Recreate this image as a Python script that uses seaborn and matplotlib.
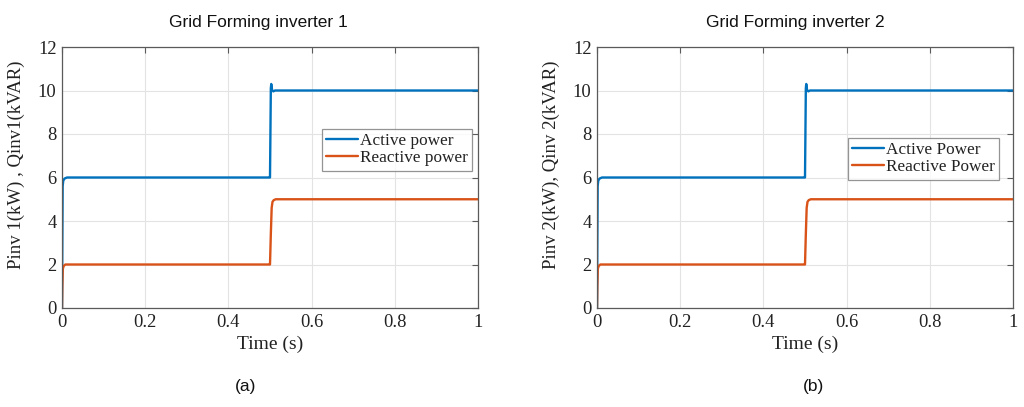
import numpy as np
import pandas as pd
import matplotlib
matplotlib.use("Agg")
import matplotlib.pyplot as plt
import seaborn as sns

# Simulated inverter power responses (time in s, power in kW / kVAR)
t_active = [0.0, 0.0008, 0.0016, 0.003, 0.006, 0.012, 0.4995, 0.5, 0.501, 0.502, 0.503, 0.505, 0.508, 0.512, 1.0]
p_inv1 = [0.0, 3.0, 5.6, 5.85, 5.95, 6.0, 6.0, 6.0, 8.0, 10.1, 10.3, 10.02, 9.96, 10.0, 10.0]
p_inv2 = [0.0, 3.0, 5.6, 5.85, 5.95, 6.0, 6.0, 6.0, 8.0, 10.1, 10.3, 10.02, 9.96, 10.0, 10.0]

t_reactive = [0.0, 0.0008, 0.002, 0.004, 0.008, 0.4995, 0.5, 0.502, 0.504, 0.506, 0.509, 0.514, 1.0]
q_inv1 = [0.0, 1.0, 1.8, 1.93, 2.0, 2.0, 2.0, 3.4, 4.6, 4.88, 4.96, 5.0, 5.0]
q_inv2 = [0.0, 1.0, 1.8, 1.93, 2.0, 2.0, 2.0, 3.4, 4.6, 4.88, 4.96, 5.0, 5.0]

x_ticks = [0, 0.2, 0.4, 0.6, 0.8, 1]
x_tick_labels = ["0", "0.2", "0.4", "0.6", "0.8", "1"]
y_ticks = [0, 2, 4, 6, 8, 10, 12]

titles = ["Grid Forming inverter 1", "Grid Forming inverter 2"]
ylabels = ["Pinv 1(kW) , Qinv1(kVAR)", "Pinv 2(kW), Qinv 2(kVAR)"]
legend_labels = [["Active power", "Reactive power"], ["Active Power", "Reactive Power"]]
panel_tags = ["(a)", "(b)"]

BLUE = "#0072BD"
ORANGE = "#D95319"
SERIF = "Liberation Serif"
SANS = "Liberation Sans"

sns.set_style("white")
plt.rcParams["font.family"] = [SERIF, "DejaVu Serif"]

fig = plt.figure(figsize=(10.24, 4.07), dpi=100)
W, H = 1024, 407

def fx(px):
    return px / W

def fy(py):
    return 1 - py / H

ax_left_px = [62, 597]
ax_w_px = 416
ax_top_px, ax_bot_px = 47, 308
legend_anchor = [(0.625, 0.686), (0.603, 0.651)]
title_cx = [258, 795]
tag_cx = [246, 814]

series = [(p_inv1, q_inv1), (p_inv2, q_inv2)]

for i in range(2):
    ax = fig.add_axes([fx(ax_left_px[i]), fy(ax_bot_px), ax_w_px / W, (ax_bot_px - ax_top_px) / H])
    p_vals, q_vals = series[i]
    df_p = pd.DataFrame({"t": t_active, "v": p_vals})
    df_q = pd.DataFrame({"t": t_reactive, "v": q_vals})
    sns.lineplot(data=df_p, x="t", y="v", ax=ax, color=BLUE, linewidth=1.7,
                 estimator=None, sort=False, label=legend_labels[i][0])
    sns.lineplot(data=df_q, x="t", y="v", ax=ax, color=ORANGE, linewidth=1.7,
                 estimator=None, sort=False, label=legend_labels[i][1])

    ax.set_xlim(0, 1)
    ax.set_ylim(0, 12)
    ax.set_xticks(x_ticks)
    ax.set_xticklabels(x_tick_labels)
    ax.set_yticks(y_ticks)
    ax.grid(True, color="#e3e3e3", linewidth=0.8)
    ax.set_axisbelow(True)
    for s in ax.spines.values():
        s.set_visible(True)
        s.set_color("#5a5a5a")
        s.set_linewidth(0.9)
    ax.tick_params(direction="in", length=4, width=0.8, color="#5a5a5a",
                   top=True, right=True, labelsize=13.3, labelcolor="#222222", pad=4)

    ax.set_xlabel("Time (s)", fontsize=14, color="#222222", labelpad=4)
    ax.set_ylabel(ylabels[i], fontsize=13.5, color="#222222", labelpad=4)
    ax.yaxis.set_label_coords(-0.089, 0.548)

    leg = ax.legend(loc="upper left", bbox_to_anchor=legend_anchor[i], fontsize=12.4,
                    frameon=True, fancybox=False, handlelength=1.85, handletextpad=0.1,
                    borderpad=0.25, labelspacing=0.05, borderaxespad=0.0)
    leg.get_frame().set_edgecolor("#7a7a7a")
    leg.get_frame().set_linewidth(0.9)
    for txt in leg.get_texts():
        txt.set_color("#222222")

    fig.text(fx(title_cx[i]), fy(22), titles[i], ha="center", va="center",
             fontsize=12.5, family=SANS, color="#111111")
    fig.text(fx(tag_cx[i]), fy(386), panel_tags[i], ha="center", va="center",
             fontsize=12.5, family=SANS, color="#111111")

fig.savefig("out.png", dpi=100)
